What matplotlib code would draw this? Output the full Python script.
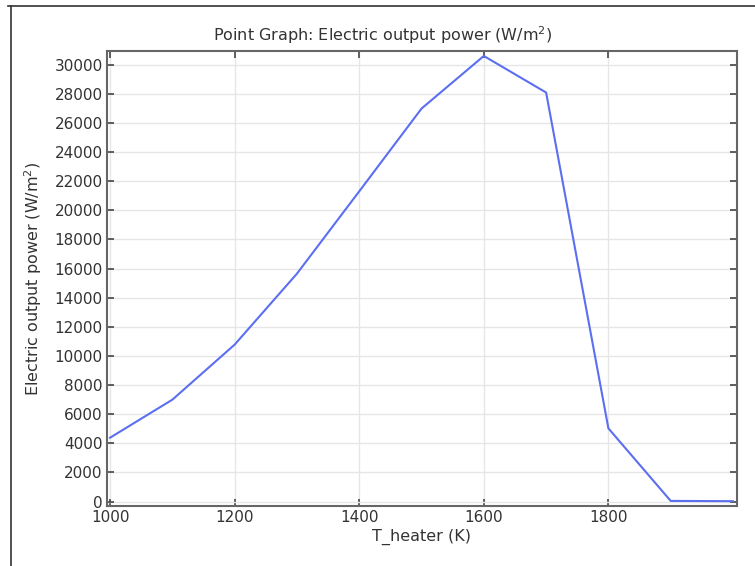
import matplotlib
matplotlib.use("Agg")
import matplotlib.pyplot as plt
from matplotlib.lines import Line2D

t_heater = [1000, 1100, 1200, 1300, 1400, 1500, 1600, 1700, 1800, 1900, 2000]
power = [4390, 7000, 10780, 15650, 21300, 26980, 30590, 28080, 5030, 50, 30]
x_ticks = [1000, 1200, 1400, 1600, 1800]
y_ticks = list(range(0, 30001, 2000))

plt.rcParams['font.family'] = ['DejaVu Sans']
fig = plt.figure(figsize=(7.55, 5.66), dpi=100)
W, H = 755, 566
ax = fig.add_axes([107 / W, 1 - 506 / H, (736.7 - 107) / W, (506 - 51) / H])

ax.plot(t_heater, power, color='#5b6ff0', lw=1.5, zorder=3)
ax.set_xlim(995, 2006)
ax.set_ylim(-300, 30930)
ax.set_xticks(x_ticks)
ax.set_yticks(y_ticks)
ax.grid(True, color='#e6e6e6', lw=1.0)
ax.set_axisbelow(True)
ax.tick_params(direction='in', top=True, right=True, length=5, width=1.2,
               color='#444444', labelsize=11, labelcolor='#333333', pad=3)
for s in ax.spines.values():
    s.set_color('#666666')
    s.set_linewidth(1.5)

fig.text(383 / W, 1 - 35 / H, 'Point Graph: Electric output power (W/m$^2$)',
         ha='center', va='center', fontsize=11.5, color='#333333')
fig.text(422 / W, 1 - 537 / H, 'T_heater (K)', ha='center', va='center',
         fontsize=11.5, color='#333333')
fig.text(33 / W, 1 - 279 / H, 'Electric output power (W/m$^2$)', ha='center',
         va='center', rotation=90, fontsize=11.5, color='#333333')

# screenshot frame
fig.add_artist(Line2D([8 / W, 1], [1 - 5.5 / H, 1 - 5.5 / H], transform=fig.transFigure,
                      color='#333333', lw=1.2))
fig.add_artist(Line2D([11 / W, 11 / W], [1 - 5.5 / H, 0], transform=fig.transFigure,
                      color='#333333', lw=1.2))

fig.savefig('out.png', dpi=100)
